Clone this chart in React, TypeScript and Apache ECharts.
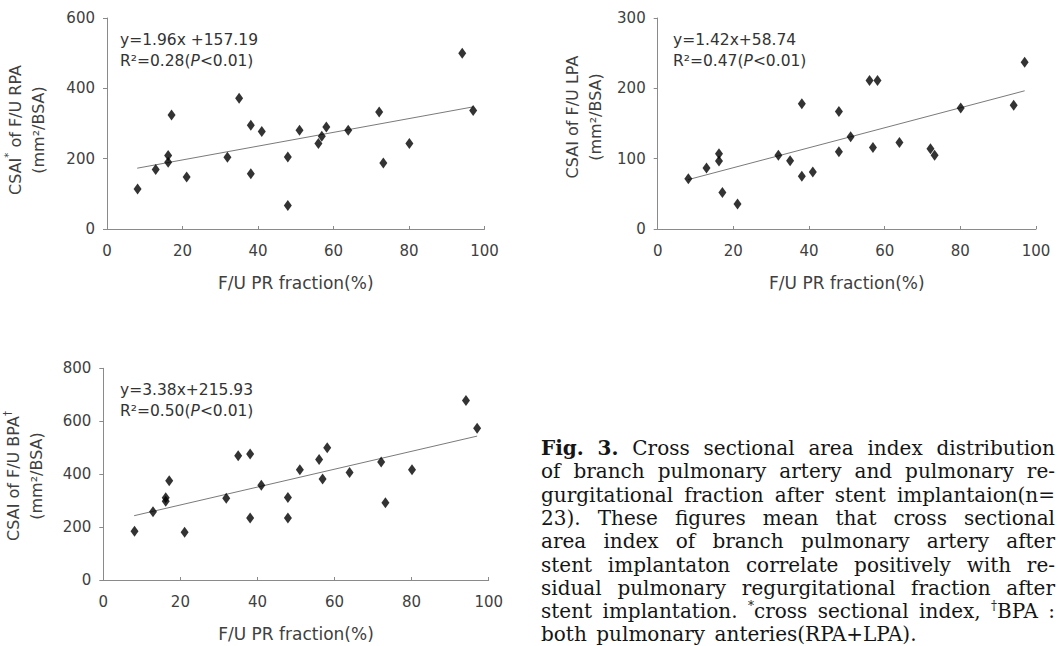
import React, { useEffect, useRef } from "react";
import * as echarts from "echarts";

// ---- data ----
const xTicks = [0, 20, 40, 60, 80, 100];
const prFraction = [8.1, 12.9, 16.2, 16.2, 17.1, 21.1, 31.9, 35.0, 38.1, 38.1, 41.0, 47.9, 47.9, 51.0, 56.0, 56.9, 58.1, 63.9, 72.1, 73.2, 80.1, 94.1, 97.0];
const rpaValues = [114, 169, 209, 190, 324, 148, 204, 372, 295, 157, 277, 205, 67, 281, 243, 264, 290, 281, 333, 188, 243, 500, 337];
const lpaValues = [71.6, 86.7, 107, 96.7, 52, 35.5, 104.7, 97, 178, 75, 81, 167, 110, 131, 211, 116, 211, 123, 114, 105, 172, 176, 237];
const bpaValues = [184, 258, 311, 298, 375, 180, 309, 470, 476, 234, 358, 312, 234, 417, 455, 382, 500, 406, 446, 292, 417, 678, 573];
const trendX = [8, 97];
const trendRPA = [172.9, 347.3];
const trendLPA = [70.1, 196.5];
const trendBPA = [243.0, 543.8];
const yMaxes = [600, 300, 800];
const yIntervals = [200, 100, 200];
const equations = [
  ["y=1.96x +157.19", "R²=0.28({i|P}<0.01)"],
  ["y=1.42x+58.74", "R²=0.47({i|P}<0.01)"],
  ["y=3.38x+215.93", "R²=0.50({i|P}<0.01)"],
];
const yTitles = [
  ["CSAI{s|*} of F/U RPA", "(mm²/BSA)"],
  ["CSAI of F/U LPA", "(mm²/BSA)"],
  ["CSAI of F/U BPA{s|†}", "(mm²/BSA)"],
];
const xTitle = "F/U PR fraction(%)";
const captionLines = [
  "{b|Fig.} {b|3.} Cross sectional area index distribution",
  "of branch pulmonary artery and pulmonary re-",
  "gurgitational fraction after stent implantaion(n=",
  "23). These figures mean that cross sectional",
  "area index of branch pulmonary artery after",
  "stent implantaton correlate positively with re-",
  "sidual pulmonary regurgitational fraction after",
  "stent implantation. {s|*}cross sectional index, {s|†}BPA :",
  "both pulmonary anteries(RPA+LPA).",
];

const SANS = '"DejaVu Sans", sans-serif';
const SERIF = '"DejaVu Serif", serif';
const TEXT_GRAY = "#404040";

const grids = [
  { left: 107, top: 18, width: 377.5, height: 211 },
  { left: 657.7, top: 18, width: 378.3, height: 211 },
  { left: 103.3, top: 368.3, width: 385.4, height: 211.7 },
];
const eqPos = [
  [120, 29.5],
  [673, 29.5],
  [120, 379.5],
];
const titlePos = [
  [26.5, 130],
  [584, 117],
  [25, 476],
];

const CAP_LEFT = 541;
const CAP_RIGHT = 1055;
const CAP_TOP = 448;
const CAP_STEP = 23.3;
const CAP_SIZE = 20;
const SUP_SIZE = 12;

function parseWord(word: string) {
  const segs: { style: string; text: string }[] = [];
  const re = /\{(\w)\|([^}]*)\}|([^{]+)/g;
  let m: RegExpExecArray | null;
  while ((m = re.exec(word))) {
    if (m[3] !== undefined) segs.push({ style: "", text: m[3] });
    else segs.push({ style: m[1], text: m[2] });
  }
  return segs;
}

function buildCaption() {
  const canvas = document.createElement("canvas");
  const ctx = canvas.getContext("2d")!;
  const measure = (t: string, style: string) => {
    if (style === "b") ctx.font = `bold ${CAP_SIZE}px ${SERIF}`;
    else if (style === "s") ctx.font = `${SUP_SIZE}px ${SERIF}`;
    else ctx.font = `${CAP_SIZE}px ${SERIF}`;
    return ctx.measureText(t).width;
  };
  const spaceW = measure(" ", "");
  const els: any[] = [];
  captionLines.forEach((line, li) => {
    const words = line.split(" ");
    const widths = words.map((w) => parseWord(w).reduce((a, s) => a + measure(s.text, s.style), 0));
    const total = widths.reduce((a, b) => a + b, 0);
    const last = li === captionLines.length - 1;
    const gap = last || words.length < 2 ? spaceW * 1.5 : (CAP_RIGHT - CAP_LEFT - total) / (words.length - 1);
    let x = CAP_LEFT;
    const y = CAP_TOP + li * CAP_STEP;
    words.forEach((w, wi) => {
      els.push({
        type: "text",
        x,
        y,
        silent: true,
        style: {
          text: w,
          fontFamily: SERIF,
          fontSize: CAP_SIZE,
          fill: "#151515",
          align: "left",
          verticalAlign: "middle",
          lineHeight: 23,
          rich: {
            b: { fontFamily: SERIF, fontSize: CAP_SIZE, fontWeight: "bold", fill: "#151515", lineHeight: 23 },
            s: { fontFamily: SERIF, fontSize: SUP_SIZE, fill: "#151515", verticalAlign: "top", lineHeight: 12 },
          },
        },
      });
      x += widths[wi] + gap;
    });
  });
  return els;
}

export default function App() {
  const ref = useRef<HTMLDivElement>(null);
  useEffect(() => {
    if (!ref.current) return;
    const chart = echarts.init(ref.current, undefined, { renderer: "svg" });
    const seriesY = [rpaValues, lpaValues, bpaValues];
    const trends = [trendRPA, trendLPA, trendBPA];

    const xAxes = grids.map((_, i) => ({
      type: "value",
      gridIndex: i,
      min: xTicks[0],
      max: xTicks[xTicks.length - 1],
      interval: 20,
      axisLine: { show: true, lineStyle: { color: "#8a8a8a", width: 1 } },
      axisTick: { show: true, inside: true, length: 3, lineStyle: { color: "#8a8a8a" } },
      axisLabel: { color: TEXT_GRAY, fontSize: 15, fontFamily: SANS, margin: 14 },
      splitLine: { show: false },
      name: xTitle,
      nameLocation: "middle",
      nameGap: 45,
      nameTextStyle: { color: TEXT_GRAY, fontSize: 17, fontFamily: SANS },
    }));
    const yAxes = grids.map((_, i) => ({
      type: "value",
      gridIndex: i,
      min: 0,
      max: yMaxes[i],
      interval: yIntervals[i],
      axisLine: { show: true, lineStyle: { color: "#8a8a8a", width: 1 } },
      axisTick: { show: true, inside: false, length: 4, lineStyle: { color: "#8a8a8a" } },
      axisLabel: { color: TEXT_GRAY, fontSize: 15, fontFamily: SANS, margin: 12 },
      splitLine: { show: false },
    }));

    const series: any[] = [];
    grids.forEach((_, i) => {
      series.push({
        type: "line",
        xAxisIndex: i,
        yAxisIndex: i,
        data: trendX.map((x, k) => [x, trends[i][k]]),
        showSymbol: false,
        symbol: "none",
        lineStyle: { color: "#7a7a7a", width: 1 },
        silent: true,
        z: 1,
      });
      series.push({
        type: "scatter",
        xAxisIndex: i,
        yAxisIndex: i,
        data: prFraction.map((x, k) => [x, seriesY[i][k]]),
        symbol: "diamond",
        symbolSize: [8, 11],
        itemStyle: { color: "#000" },
        z: 2,
      });
    });

    const graphics: any[] = [];
    equations.forEach((eq, i) => {
      graphics.push({
        type: "text",
        x: eqPos[i][0],
        y: eqPos[i][1],
        silent: true,
        style: {
          text: eq.join("\n"),
          fontFamily: SANS,
          fontSize: 15.5,
          fill: "#333",
          lineHeight: 21,
          align: "left",
          verticalAlign: "top",
          rich: { i: { fontFamily: SANS, fontSize: 15.5, fontStyle: "italic", fill: "#333", lineHeight: 21 } },
        },
      });
    });
    yTitles.forEach((t, i) => {
      graphics.push({
        type: "text",
        x: titlePos[i][0],
        y: titlePos[i][1],
        rotation: Math.PI / 2,
        silent: true,
        style: {
          text: t.join("\n"),
          fontFamily: SANS,
          fontSize: 16,
          fill: TEXT_GRAY,
          lineHeight: 23,
          align: "center",
          verticalAlign: "middle",
          rich: { s: { fontFamily: SANS, fontSize: 10, fill: TEXT_GRAY, verticalAlign: "top", lineHeight: 10 } },
        },
      });
    });
    graphics.push(...buildCaption());

    chart.setOption({
      animation: false,
      backgroundColor: "#ffffff",
      grid: grids.map((g) => ({ ...g, containLabel: false, outerBoundsMode: "none" })),
      xAxis: xAxes,
      yAxis: yAxes,
      series,
      graphic: graphics,
    });
    return () => chart.dispose();
  }, []);
  return <div ref={ref} style={{ position: "absolute", left: 0, top: 0, width: 1058, height: 646 }} />;
}
